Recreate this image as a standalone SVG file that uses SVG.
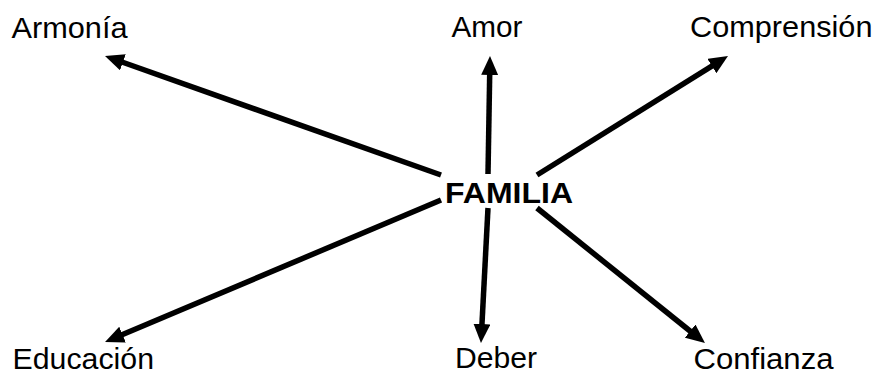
<svg xmlns="http://www.w3.org/2000/svg" width="878" height="372" viewBox="0 0 878 372">
  <style>
    .lbl { font-family: "Liberation Sans", Arial, sans-serif; font-size: 30px; fill: #000; }
    .ctr { font-family: "Liberation Sans", Arial, sans-serif; font-size: 30px; font-weight: bold; fill: #000; }
    .arr { stroke: #000; stroke-width: 5.5; fill: none; marker-end: url(#ah); }
  </style>
  <defs>
    <marker id="ah" viewBox="0 0 19 17" refX="7" refY="8.5" markerWidth="19" markerHeight="17" markerUnits="userSpaceOnUse" orient="auto">
      <path d="M0,0 L19,8.5 L0,17 z" fill="#000"/>
    </marker>
  </defs>
  <rect width="878" height="372" fill="#fff"/>
  <g id="connectors">
    <line class="arr" x1="441" y1="175" x2="116.3" y2="60"/>
    <line class="arr" x1="488" y1="174" x2="489.8" y2="68"/>
    <line class="arr" x1="537" y1="175" x2="717.8" y2="62.3"/>
    <line class="arr" x1="441" y1="200" x2="116.1" y2="337.3"/>
    <line class="arr" x1="488" y1="208" x2="481.6" y2="331"/>
    <line class="arr" x1="537" y1="208" x2="695.6" y2="335.5"/>
  </g>
  <g id="familia"><text class="ctr" x="445" y="203" textLength="128" lengthAdjust="spacingAndGlyphs">FAMILIA</text></g>
  <g id="armonia"><text class="lbl" x="11.5" y="37.5" textLength="116" lengthAdjust="spacingAndGlyphs">Armonía</text></g>
  <g id="amor"><text class="lbl" x="451.5" y="36.5" textLength="71" lengthAdjust="spacingAndGlyphs">Amor</text></g>
  <g id="comprension"><text class="lbl" x="690" y="36.5" textLength="182.5" lengthAdjust="spacingAndGlyphs">Comprensión</text></g>
  <g id="educacion"><text class="lbl" x="12.5" y="369" textLength="141.5" lengthAdjust="spacingAndGlyphs">Educación</text></g>
  <g id="deber"><text class="lbl" x="455" y="367.5" textLength="82" lengthAdjust="spacingAndGlyphs">Deber</text></g>
  <g id="confianza"><text class="lbl" x="693.5" y="368.5" textLength="140" lengthAdjust="spacingAndGlyphs">Confianza</text></g>
</svg>
